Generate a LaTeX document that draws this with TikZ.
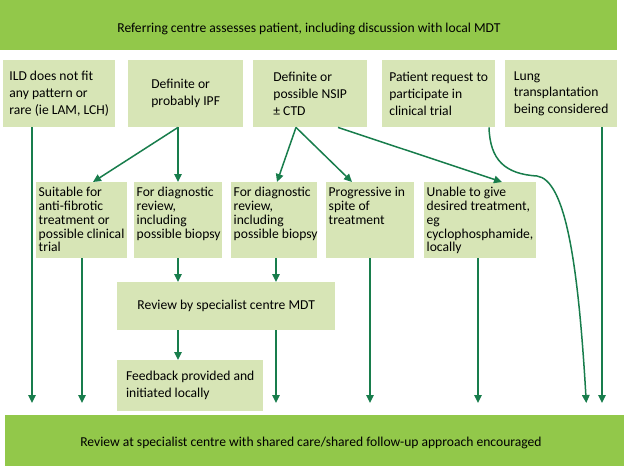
\documentclass[tikz,border=0pt]{standalone}
\usepackage{fontspec}
\setmainfont{Carlito}
\usetikzlibrary{arrows.meta}
\definecolor{barG}{RGB}{146,200,74}
\definecolor{boxG}{RGB}{215,229,182}
\definecolor{arrG}{RGB}{24,125,76}
\newcommand\myfa{\fontsize{13.6}{16.7}\selectfont}
\newcommand\myfb{\fontsize{13.6}{13.8}\selectfont}
\newcommand\rtwo[2]{\parbox[t][70pt][t]{#1}{\raggedright\hfuzz=50pt\hbadness=10000\myfb\rule{0pt}{11.5pt}#2}}
\begin{document}
\begin{tikzpicture}[x=1pt,y=-1pt,
  bar/.style={fill=barG, draw=none, inner sep=0pt, anchor=north west},
  tbox/.style={fill=boxG, inner sep=0pt, align=left, font=\myfa, anchor=north west, minimum height=67pt},
  rbox/.style={fill=boxG, inner xsep=2.5pt, inner ysep=3pt, anchor=north west},
  cbox/.style={fill=boxG, inner sep=0pt, align=left, font=\myfa, anchor=north west},
  arr/.style={draw=arrG, line width=1.5pt, -{Triangle[length=8pt,width=7.5pt]}},
  tobar/.style={arr, shorten >=12pt}]
\useasboundingbox (0,0) rectangle (624,466);
% bars
\node[bar, minimum width=617pt, minimum height=50pt] (top) at (0,0) {};
\node[font=\myfa] (toptxt) at (309,29) {Referring centre assesses patient, including discussion with local MDT};
\node[bar, minimum width=619pt, minimum height=51pt] (bot) at (5,415) {};
\node[font=\myfa] (bottxt) at (311,443) {Review at specialist centre with shared care/shared follow-up approach encouraged};
% top row
\node[tbox, minimum width=112pt] (ild) at (3,60) {ILD does not fit\\any pattern or\\rare (ie LAM, LCH)};
\node[tbox, minimum width=115pt] (ipf) at (128,60) {Definite or\\probably IPF};
\node[tbox, minimum width=114pt] (nsip) at (253,60) {Definite or\\possible NSIP\\± CTD};
\node[tbox, minimum width=113pt] (pat) at (382,60) {Patient request to\\participate in\\clinical trial};
\node[tbox, minimum width=112pt] (lung) at (505,60) {Lung\\transplantation\\being considered};
% second row
\node[rbox] (suit) at (36,182) {\rtwo{86pt}{Suitable for\\anti-fibrotic\\treatment or\\\mbox{possible clinical}\\trial}};
\node[rbox] (diaga) at (134,182) {\rtwo{83pt}{For diagnostic\\review,\\including\\\mbox{possible biopsy}}};
\node[rbox] (diagb) at (231,182) {\rtwo{81pt}{For diagnostic\\review,\\including\\\mbox{possible biopsy}}};
\node[rbox] (prog) at (326,182) {\rtwo{83pt}{\mbox{Progressive in}\\spite of\\treatment}};
\node[rbox] (unable) at (424,182) {\rtwo{107pt}{Unable to give\\\mbox{desired treatment,}\\eg\\\mbox{cyclophosphamide,}\\locally}};
% MDT and feedback
\node[cbox, minimum width=218pt, minimum height=48pt] (mdt) at (117,282) {Review by specialist centre MDT};
\node[cbox, minimum width=146pt, minimum height=51pt] (fb) at (117,360) {Feedback provided and\\initiated locally};
% arrows
\draw[tobar] (ild.south -| 32,0) -- (bot.north -| 32,0);
\draw[arr] (ipf.south -| 178,0) -- (suit.north -| 93,0);
\draw[arr] (ipf.south -| 178,0) -- (diaga.north -| 178,0);
\draw[arr] (nsip.south -| 296,0) -- (diagb.north -| 277,0);
\draw[arr] (nsip.south -| 296,0) -- (prog.north -| 352,0);
\draw[arr] (nsip.south -| 338,0) -- (unable.north -| 502,0);
\draw[tobar] (suit.south -| 82,0) -- (bot.north -| 82,0);
\draw[arr] (diaga.south -| 178,0) -- (mdt.north -| 178,0);
\draw[arr] (diagb.south -| 276,0) -- (mdt.north -| 276,0);
\draw[arr] (mdt.south -| 178,0) -- (fb.north -| 178,0);
\draw[tobar] (mdt.south -| 276,0) -- (bot.north -| 276,0);
\draw[tobar] (prog.south -| 370,0) -- (bot.north -| 370,0);
\draw[tobar] (unable.south -| 478,0) -- (bot.north -| 478,0);
\draw[tobar] (pat.south -| 489,0) .. controls (490,160) and (505,174) .. (537,176)
  .. controls (565,180) and (578,260) .. (bot.north -| 587,0);
\draw[tobar] (lung.south -| 602,0) -- (bot.north -| 602,0);
\end{tikzpicture}
\end{document}
